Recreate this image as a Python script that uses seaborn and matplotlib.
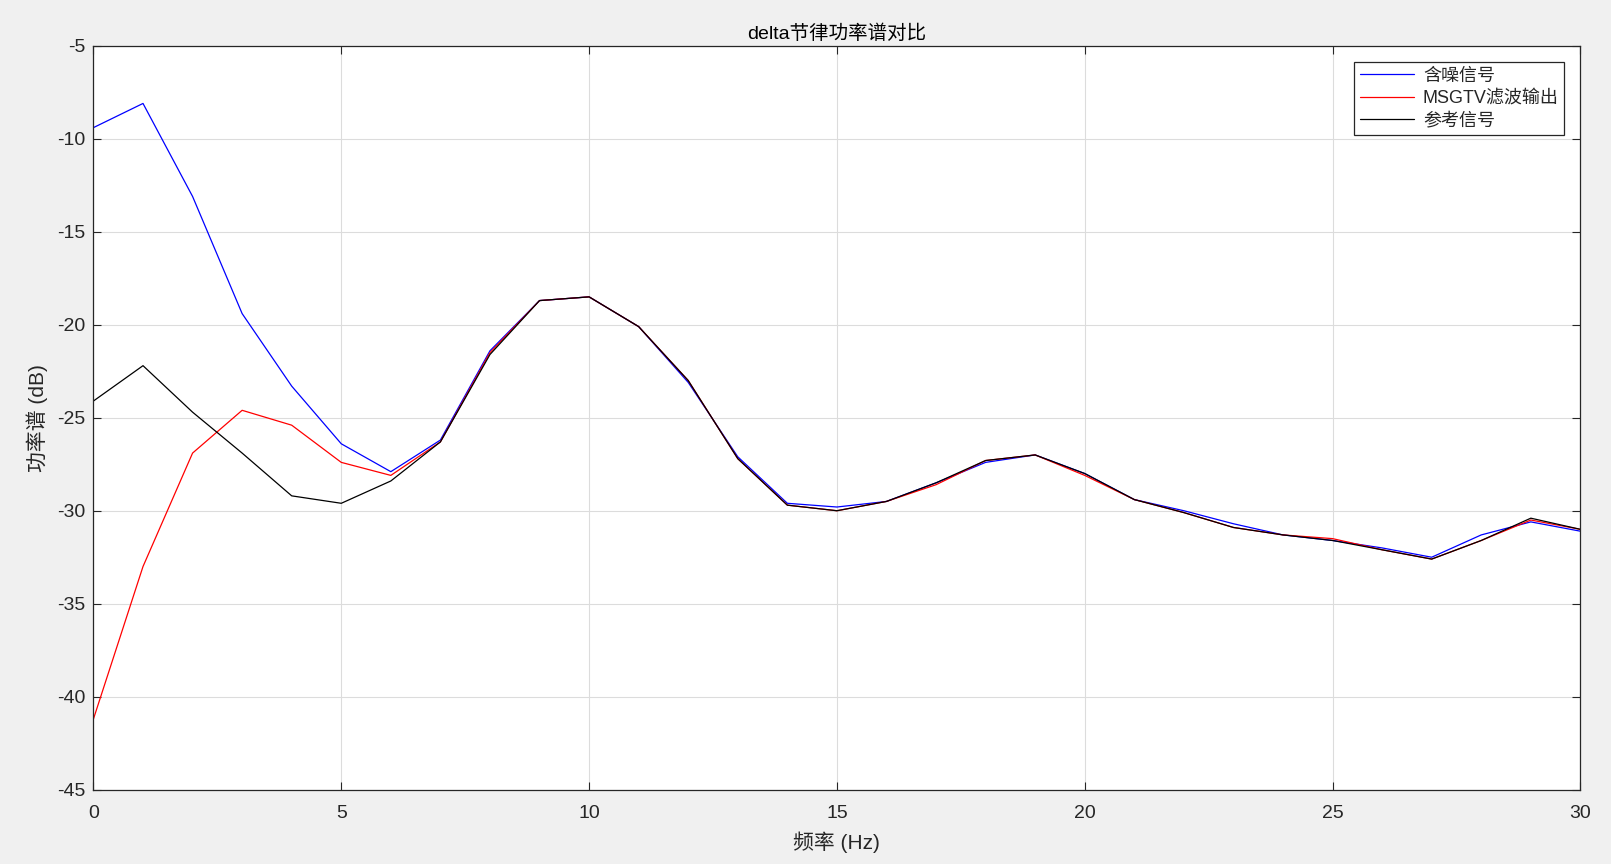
import numpy as np
import pandas as pd
import matplotlib
matplotlib.use("Agg")
import matplotlib.pyplot as plt
import seaborn as sns

# 频率 (Hz)
freq = list(range(0, 31))

# 含噪信号
noisy_db = [-9.4, -8.1, -13.1, -19.4, -23.3, -26.4, -27.9, -26.2, -21.4, -18.7,
            -18.5, -20.1, -23.1, -27.1, -29.6, -29.8, -29.5, -28.5, -27.4, -27.0,
            -28.0, -29.4, -30.0, -30.7, -31.3, -31.6, -32.0, -32.5, -31.3, -30.6,
            -31.1]

# MSGTV滤波输出
filtered_db = [-41.2, -33.0, -26.9, -24.6, -25.4, -27.4, -28.1, -26.3, -21.5, -18.7,
               -18.5, -20.1, -23.0, -27.2, -29.7, -30.0, -29.5, -28.6, -27.3, -27.0,
               -28.1, -29.4, -30.1, -30.9, -31.3, -31.5, -32.1, -32.6, -31.6, -30.5,
               -31.0]

# 参考信号
reference_db = [-24.1, -22.2, -24.7, -26.9, -29.2, -29.6, -28.4, -26.3, -21.6, -18.7,
                -18.5, -20.1, -23.0, -27.2, -29.7, -30.0, -29.5, -28.5, -27.3, -27.0,
                -28.0, -29.4, -30.1, -30.9, -31.3, -31.6, -32.1, -32.6, -31.6, -30.4,
                -31.0]

labels = ["含噪信号", "MSGTV滤波输出", "参考信号"]
colors = {"含噪信号": "#0000ff", "MSGTV滤波输出": "#ff0000", "参考信号": "#000000"}

df = pd.DataFrame({
    "freq": freq * 3,
    "db": noisy_db + filtered_db + reference_db,
    "signal": [labels[0]] * len(freq) + [labels[1]] * len(freq) + [labels[2]] * len(freq),
})

sns.set_style("ticks")
plt.rcParams["font.family"] = ["Liberation Sans", "Noto Sans CJK SC", "DejaVu Sans"]
plt.rcParams["axes.unicode_minus"] = False

fig = plt.figure(figsize=(16.11, 8.64), dpi=100, facecolor="#f0f0f0")
ax = fig.add_axes([0.058, 0.086, 0.923, 0.861])
ax.set_facecolor("white")

sns.lineplot(data=df, x="freq", y="db", hue="signal", palette=colors,
             hue_order=labels, linewidth=0.9, ax=ax, legend=True)

ax.set_xlim(0, 30)
ax.set_ylim(-45, -5)
ax.set_xticks(np.arange(0, 31, 5))
ax.set_yticks(np.arange(-45, -4, 5))
ax.grid(True, color="#dcdcdc", linewidth=0.8)
ax.set_axisbelow(True)
ax.tick_params(direction="in", top=True, right=True, length=6, width=0.8,
               labelsize=14, colors="#262626")
ax.tick_params(axis="x", pad=11)
ax.tick_params(axis="y", pad=6)
for s in ax.spines.values():
    s.set_color("#262626")
    s.set_linewidth(0.9)

ax.set_title("delta节律功率谱对比", fontsize=14, color="#000000", pad=5)
ax.set_xlabel("频率 (Hz)", fontsize=15, color="#262626", labelpad=7)
ax.set_ylabel("功率谱 (dB)", fontsize=15, color="#262626", labelpad=6)

leg = ax.legend(loc="upper right", fontsize=13, frameon=True, fancybox=False,
                edgecolor="#262626", framealpha=1, handlelength=3.0,
                handletextpad=0.5, borderaxespad=0.9, labelspacing=0.3,
                borderpad=0.3)
leg.get_frame().set_linewidth(0.9)

fig.savefig("out.png", dpi=100, facecolor=fig.get_facecolor())
